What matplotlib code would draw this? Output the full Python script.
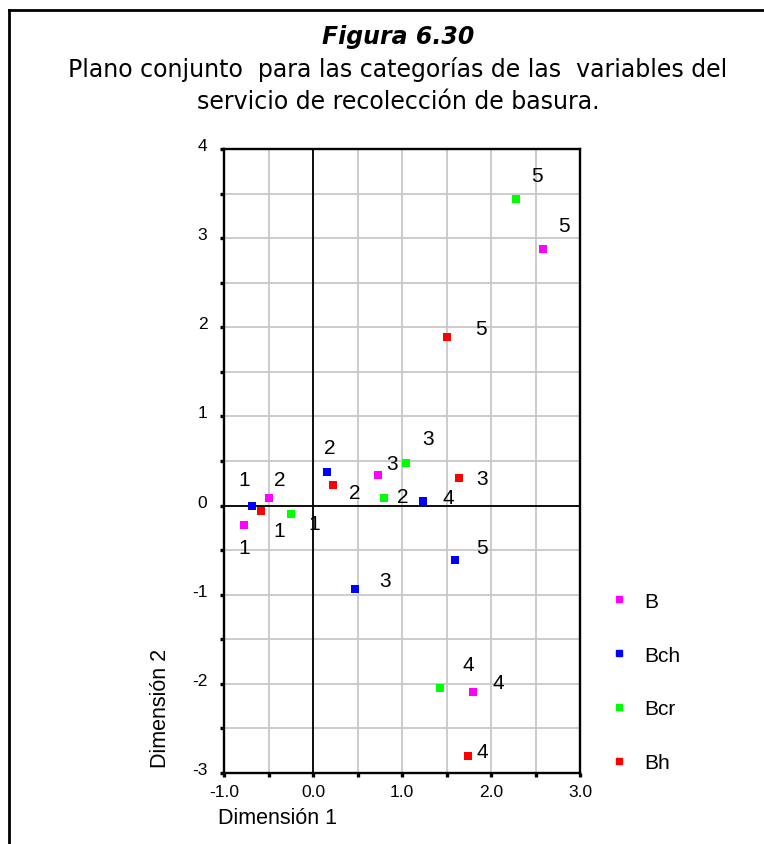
import matplotlib.pyplot as plt
from matplotlib.lines import Line2D
from matplotlib.transforms import ScaledTranslation

# coordenadas de las categorias
B_x = [-0.77, -0.50, 0.73, 1.80, 2.58]
B_y = [-0.22, 0.09, 0.34, -2.09, 2.88]
Bch_x = [-0.69, 0.16, 0.475, 1.24, 1.60]
Bch_y = [0.00, 0.38, -0.94, 0.05, -0.61]
Bcr_x = [-0.25, 0.80, 1.04, 1.43, 2.28]
Bcr_y = [-0.10, 0.09, 0.48, -2.05, 3.44]
Bh_x = [-0.58, 0.22, 1.64, 1.74, 1.51]
Bh_y = [-0.06, 0.23, 0.31, -2.81, 1.89]
cats = ['1', '2', '3', '4', '5']

series = [('B', B_x, B_y, '#ff00ff'),
          ('Bch', Bch_x, Bch_y, '#0000ff'),
          ('Bcr', Bcr_x, Bcr_y, '#00ff00'),
          ('Bh', Bh_x, Bh_y, '#ff0000')]

# desplazamiento de las etiquetas en pixeles (dx, dy hacia arriba)
offs = {
    'B': [(0, -22), (11, 18), (14, 12), (25, 9), (21, 23)],
    'Bch': [(-7, 26), (3, 24), (30, 9), (25, 4), (27, 12)],
    'Bcr': [(23, -9), (19, 1), (23, 24), (28, 24), (21, 23)],
    'Bh': [(18, -20), (22, -7), (23, -1), (14, 5), (34, 9)],
}

plt.rcParams['font.family'] = ['Liberation Sans', 'DejaVu Sans']

fig = plt.figure(figsize=(7.64, 8.45), dpi=100)
ax = fig.add_axes([224/764, 1-774/845, 356/764, 624/845])

ax.set_xlim(-1, 3)
ax.set_ylim(-3, 4)
ax.set_xticks([-1, -0.5, 0, 0.5, 1, 1.5, 2, 2.5, 3])
ax.set_xticklabels(['-1.0', '', '0.0', '', '1.0', '', '2.0', '', '3.0'])
ax.set_yticks([-3, -2.5, -2, -1.5, -1, -0.5, 0, 0.5, 1, 1.5, 2, 2.5, 3, 3.5, 4])
ax.set_yticklabels(['-3', '', '-2', '', '-1', '', '0', '', '1', '', '2', '', '3', '', '4'])
ax.grid(True, color='#c8c8c8', linewidth=1.3)
ax.set_axisbelow(True)
ax.tick_params(direction='out', length=3, width=2.4, labelsize=12.5)
ax.tick_params(axis='y', pad=9)
ax.tick_params(axis='x', pad=5)
# etiquetas del eje y un poco por encima de la marca
up = ScaledTranslation(0, 5/100, fig.dpi_scale_trans)
for lab in ax.get_yticklabels():
    lab.set_transform(lab.get_transform() + up)
for s in ax.spines.values():
    s.set_linewidth(1.7)
ax.axhline(0, color='black', linewidth=1.3, zorder=2)
ax.axvline(0, color='black', linewidth=1.3, zorder=2)

for name, xs, ys, col in series:
    ax.scatter(xs, ys, marker='s', s=30, color=col, zorder=3, linewidths=0)
    for i in range(len(xs)):
        ax.annotate(cats[i], (xs[i], ys[i]), xytext=offs[name][i],
                    textcoords='offset pixels', ha='center', va='center',
                    fontsize=15)

handles = [Line2D([], [], marker='s', color=c, linestyle='none', markersize=5)
           for _, _, _, c in series]
fig.legend(handles, [n for n, _, _, _ in series], loc='upper left',
           bbox_to_anchor=(590/764, 1-574/845), frameon=False, fontsize=15,
           labelspacing=1.67, handletextpad=0.7, handlelength=1.0)

fig.text(278/764, 1-819/845, 'Dimensión 1', ha='center', va='center', fontsize=15.5)
fig.text(160/764, 1-708/845, 'Dimensión 2', ha='center', va='center',
         rotation=90, fontsize=15.5)

cx = 398/764
fig.text(cx, 1-44/845, 'Figura 6.30', ha='center', va='baseline', fontsize=17,
         fontweight='bold', fontstyle='italic', family='DejaVu Sans')
fig.text(cx, 1-77/845, 'Plano conjunto  para las categorías de las  variables del',
         ha='center', va='baseline', fontsize=17, family='DejaVu Sans')
fig.text(cx, 1-109/845, 'servicio de recolección de basura.',
         ha='center', va='baseline', fontsize=17, family='DejaVu Sans')

fig.add_artist(Line2D([9/764, 9/764], [0, 1-11/845], color='black', linewidth=2,
                      transform=fig.transFigure))
fig.add_artist(Line2D([9/764, 1], [1-11/845, 1-11/845], color='black', linewidth=2,
                      transform=fig.transFigure))

fig.savefig('out.png', dpi=100)
